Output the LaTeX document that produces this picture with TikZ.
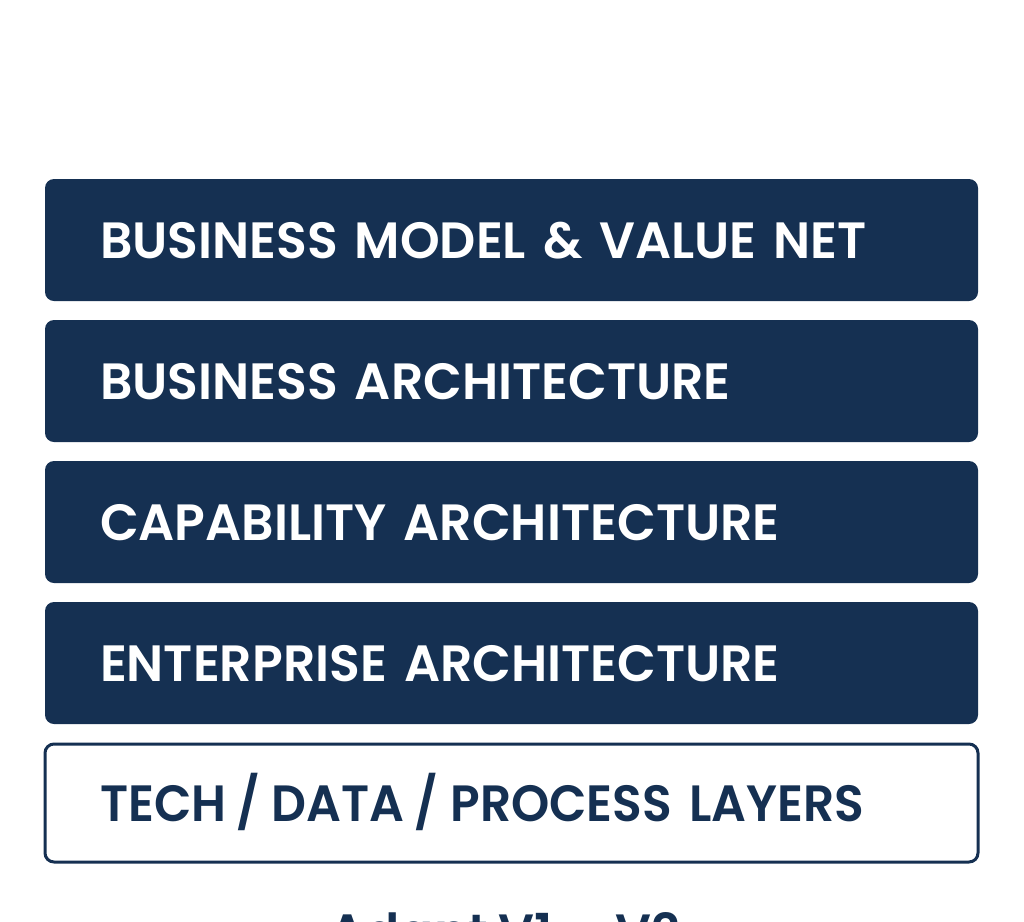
\documentclass[tikz,border=0pt]{standalone}
\usepackage{fontspec}
\setmainfont{Poppins}[BoldFont={Poppins SemiBold},FakeStretch=0.99,WordSpace=0.85]
\newfontfamily\techfont{Poppins SemiBold}[FakeStretch=0.955,WordSpace=0.85]
\newfontfamily\arrowfont{DejaVu Sans}
\tikzset{
  layer/.style={
    rectangle,
    rounded corners=9pt,
    minimum width=933pt,
    minimum height=122pt,
    text width=823pt,
    inner xsep=55pt,
    inner ysep=0pt,
    align=left,
    text height=36pt,
    text depth=0pt,
    font=\fontsize{51}{51}\selectfont\bfseries,
    fill=navy,
    text=white
  },
  openlayer/.style={
    layer,
    fill=white,
    draw=navy,
    line width=3pt,
    text=navy,
    font=\fontsize{51}{51}\techfont
  }
}
\definecolor{navy}{RGB}{21,48,82}
\begin{document}
\begin{tikzpicture}[x=1pt,y=-1pt]
    \useasboundingbox (0,0) rectangle (1024,921);
    \node[layer] (model) at (511.5,240) {BUSINESS MODEL \& VALUE NET};
    \node[layer] (business) at (511.5,381) {BUSINESS ARCHITECTURE};
    \node[layer] (capability) at (511.5,522) {CAPABILITY ARCHITECTURE};
    \node[layer] (enterprise) at (511.5,663) {ENTERPRISE ARCHITECTURE};
    \node[openlayer,minimum height=118pt] (tech) at (511.5,803) {TECH\hspace{-7pt} / \hspace{-5pt}DATA\hspace{-7pt} / \hspace{-5pt}PROCESS LAYERS};
    \node[font=\fontsize{51}{51}\selectfont\bfseries,text=navy,anchor=north,inner sep=0pt] (caption) at (505,912) {Adapt V1 {\arrowfont →} V2};
\end{tikzpicture}
\end{document}
